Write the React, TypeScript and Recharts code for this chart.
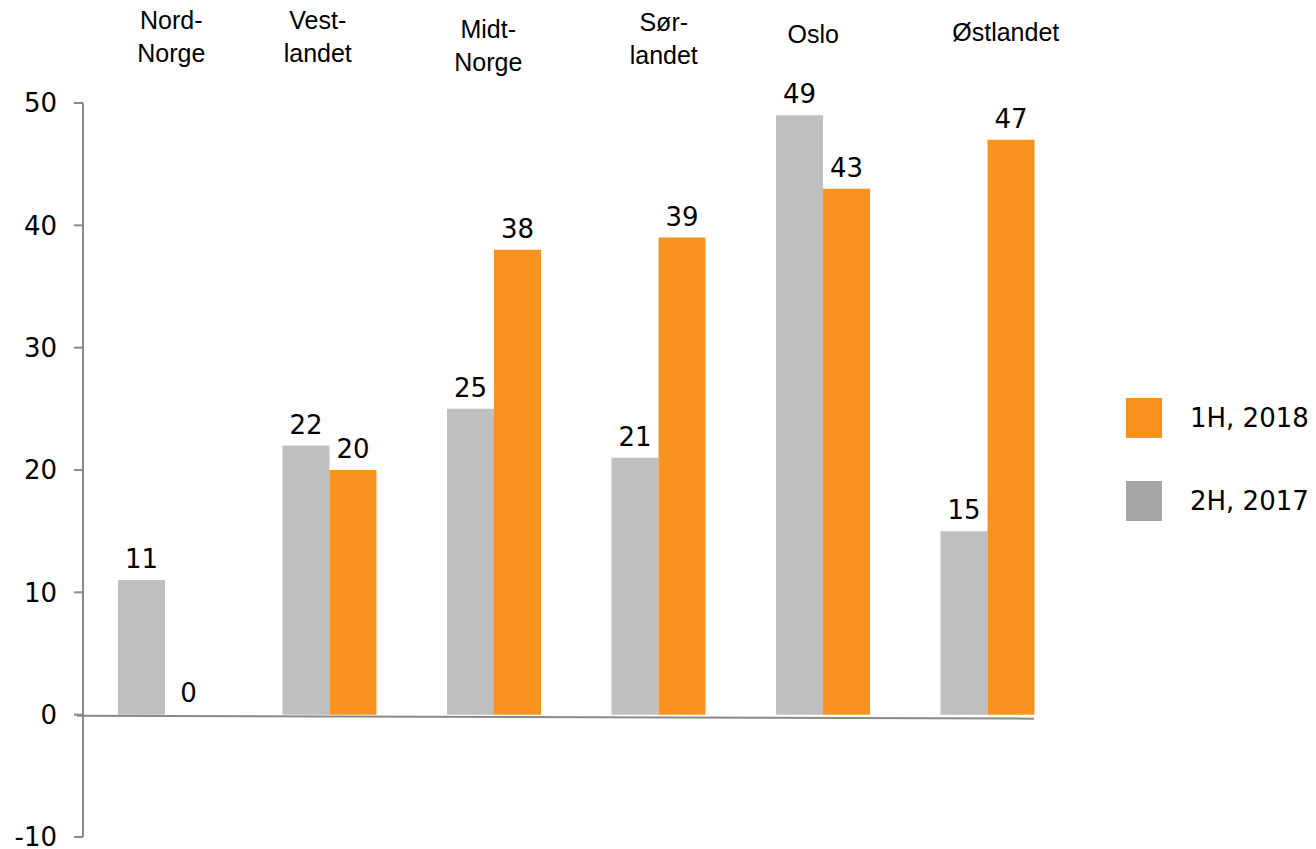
import { BarChart, Bar, XAxis, YAxis, ReferenceLine, LabelList, Cell } from 'recharts';

const regions = ['Nord-Norge', 'Vestlandet', 'Midt-Norge', 'Sørlandet', 'Oslo', 'Østlandet'];
const regionLines = [['Nord-', 'Norge'], ['Vest-', 'landet'], ['Midt-', 'Norge'], ['Sør-', 'landet'], ['Oslo'], ['Østlandet']];
const h2017 = [11, 22, 25, 21, 49, 15];
const h2018 = [0, 20, 38, 39, 43, 47];
const yTicks = [-10, 0, 10, 20, 30, 40, 50];

const ORANGE = '#F7931E';
const GRAY = '#BFBFBF';
const LEGEND_GRAY = '#A6A6A6';
const AXIS = '#898989';
const VERDANA = "'DejaVu Sans', Verdana, sans-serif";

const data = regions.map((name, i) => ({ name, h2017: h2017[i], h2018: h2018[i] }));

const legendItems = [
    { label: '1H, 2018', color: ORANGE },
    { label: '2H, 2017', color: LEGEND_GRAY },
];

// label nudges to mimic the uneven header placement [dx, baseline of first line relative to plot top]
const tickNudge = [[6, -74], [-12, -74], [-6, -65], [5, -72], [-10, -60], [18, -62]];

const RegionTick = ({ x, y, index }: any) => {
    const lines = regionLines[index] || [];
    const [dx, dy] = tickNudge[index] || [0, -70];
    return (
        <text x={x + dx} y={y + dy} textAnchor="middle" fontFamily="'Liberation Sans', Arial, sans-serif" fontSize={25} fill="#000">
            {lines.map((line, i) => (
                <tspan key={i} x={x + dx} dy={i === 0 ? 0 : 33}>{line}</tspan>
            ))}
        </text>
    );
};

const ZeroLine = (props: any) => (
    <line x1={props.x1 - 6} y1={props.y1 + 1} x2={props.x2 - 36} y2={props.y2 + 4} stroke={AXIS} strokeWidth={2} />
);

export default function App() {
    return (
        <div style={{ position: 'absolute', left: 0, top: 0, width: 1316, height: 849, background: '#fff' }}>
            <BarChart width={1316} height={849} data={data} margin={{ top: 3, right: 246, bottom: 12, left: 0 }} barGap={0} barSize={47}>
                <XAxis dataKey="name" orientation="top" height={100} axisLine={false} tickLine={false} tickSize={0} tickMargin={0} tick={<RegionTick />} interval={0} />
                <YAxis
                    domain={[-10, 50]}
                    ticks={yTicks}
                    interval={0}
                    width={83}
                    axisLine={{ stroke: AXIS, strokeWidth: 2 }}
                    tickLine={{ stroke: AXIS, strokeWidth: 2 }}
                    tickSize={9}
                    tickMargin={17}
                    tick={{ fontFamily: VERDANA, fontSize: 26, fill: '#000' }}
                />
                <Bar dataKey="h2017" name="2H, 2017" fill={GRAY} isAnimationActive={false}>
                    <LabelList dataKey="h2017" position="top" offset={12} fill="#000" fontSize={26} fontFamily={VERDANA} />
                </Bar>
                <Bar dataKey="h2018" name="1H, 2018" fill={ORANGE} minPointSize={1} isAnimationActive={false}>
                    {h2018.map((v, i) => (
                        <Cell key={`c-${i}`} fill={v === 0 ? 'transparent' : ORANGE} />
                    ))}
                    <LabelList dataKey="h2018" position="top" offset={12} fill="#000" fontSize={26} fontFamily={VERDANA} />
                </Bar>
                <ReferenceLine y={0} shape={<ZeroLine />} />
            </BarChart>
            <div style={{ position: 'absolute', left: 1126, top: 398, fontFamily: VERDANA, fontSize: 26, color: '#000' }}>
                {legendItems.map((item) => (
                    <div key={item.label} style={{ display: 'flex', alignItems: 'center', height: 40, marginBottom: 43 }}>
                        <div style={{ width: 36, height: 40, background: item.color }}></div>
                        <span style={{ marginLeft: 28, whiteSpace: 'nowrap' }}>{item.label}</span>
                    </div>
                ))}
            </div>
        </div>
    );
}
